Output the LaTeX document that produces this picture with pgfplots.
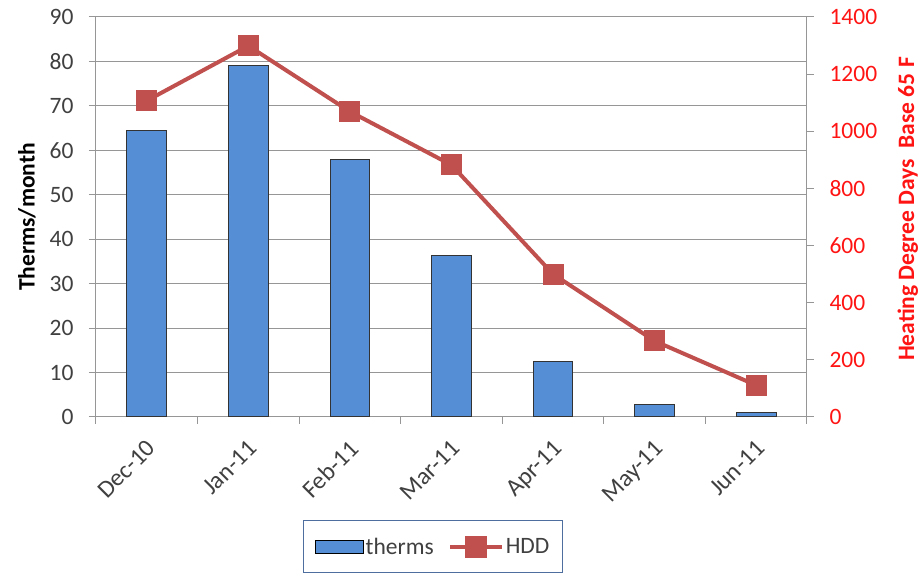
\documentclass[border=0pt]{standalone}
\usepackage{pgfplots}
\pgfplotsset{compat=1.18}
\usepackage{fontspec}
\setmainfont{Carlito}
\definecolor{barblue}{RGB}{85,142,213}
\definecolor{hddred}{RGB}{192,80,77}
\definecolor{tickgray}{RGB}{64,64,64}
\definecolor{axgray}{RGB}{150,150,150}
\definecolor{labred}{RGB}{255,20,20}
\definecolor{legblue}{RGB}{79,110,160}
\begin{document}
\begin{tikzpicture}
\path[use as bounding box] (0,0) rectangle (922pt,578pt);
\begin{axis}[
  at={(96pt,161pt)}, anchor=south west,
  scale only axis, width=711pt, height=400pt,
  xmin=-0.5, xmax=6.5, ymin=0, ymax=90,
  ytick={0,10,...,90},
  xtick={0,...,6},
  xticklabels={Dec-10,Jan-11,Feb-11,Mar-11,Apr-11,May-11,Jun-11},
  minor xtick={-0.5,0.5,...,6.5},
  major x tick style={draw=none},
  minor tick length=7pt,
  major tick length=7pt,
  tick align=outside,
  axis y line*=left, axis x line*=bottom,
  axis line style={draw=axgray, line width=1pt},
  tick style={draw=axgray, line width=1pt},
  ymajorgrids, grid style={draw=axgray, line width=1pt},
  font=\fontsize{23.5pt}{27pt}\selectfont,
  ticklabel style={text=tickgray},
  /pgf/number format/assume math mode=true,
  x tick label style={rotate=45, anchor=north east, xshift=-8pt, yshift=-6pt, font=\fontsize{24.5pt}{28pt}\selectfont},
  ylabel={\bfseries Therms/month},
  ylabel style={at={(axis description cs:-0.097,0.5)}, anchor=center},
  y tick label style={xshift=-12pt},
]
\addplot[ybar, bar width=0.39, fill=barblue, draw=black!80, line width=1pt]
  coordinates {(0,64.4) (1,79.0) (2,58.0) (3,36.4) (4,12.4) (5,2.9) (6,0.9)};
\end{axis}
\begin{axis}[
  at={(96pt,161pt)}, anchor=south west,
  scale only axis, width=711pt, height=400pt,
  xmin=-0.5, xmax=6.5, ymin=0, ymax=1400,
  ytick={0,200,...,1400},
  axis y line*=right, axis x line=none,
  axis line style={draw=axgray, line width=1pt},
  tick style={draw=axgray, line width=1pt},
  major tick length=7pt, tick align=outside,
  font=\fontsize{23.5pt}{27pt}\selectfont,
  ticklabel style={text=labred},
  y tick label style={xshift=12pt},
  /pgf/number format/assume math mode=true,
  /pgf/number format/1000 sep={},
  ylabel={\bfseries\color{labred}Heating Degree Days\ \ Base 65 F},
  ylabel style={at={(axis description cs:1.142,0.52)}, anchor=center},
  legend style={at={(0.474,-0.324)}, anchor=center, draw=legblue, line width=0.8pt,
    legend columns=2, font=\fontsize{23.5pt}{27pt}\selectfont, text=tickgray,
    inner xsep=11pt, inner ysep=15pt,
    /tikz/every even column/.append style={column sep=12pt}},
]
\addlegendimage{legend image code/.code={\draw[fill=barblue, draw=black, line width=1pt] (0pt,-6.5pt) rectangle (48pt,6.5pt);}}
\addlegendentry{therms}
\addplot[hddred, line width=4pt, mark=square*, mark size=10pt, mark options={fill=hddred, draw=hddred, line width=0pt},
  legend image code/.code={\draw[hddred, line width=4pt] (0pt,0pt) -- (52pt,0pt); \fill[hddred] (17pt,-9pt) rectangle (35pt,9pt);}]
  coordinates {(0,1107) (1,1299) (2,1069) (3,882) (4,500) (5,266) (6,111)};
\addlegendentry{HDD}
\end{axis}
\end{tikzpicture}
\end{document}
